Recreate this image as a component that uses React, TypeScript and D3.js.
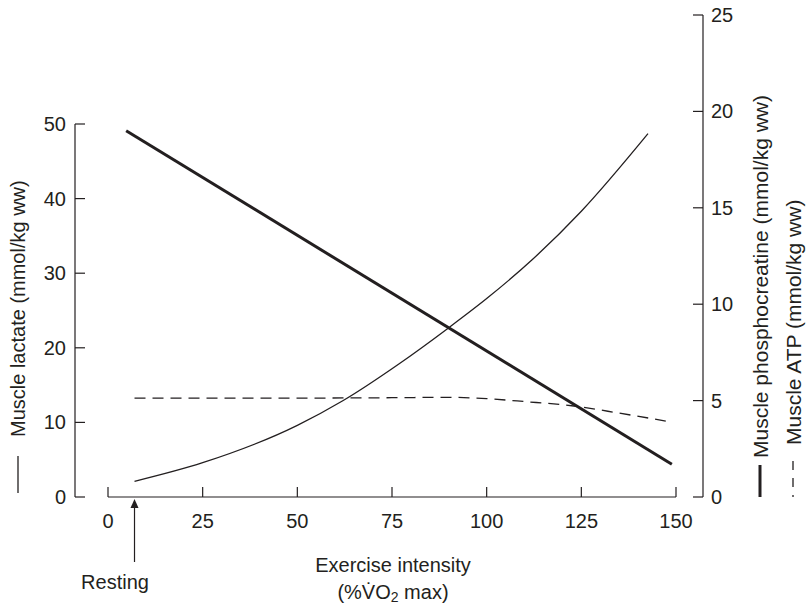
import React from 'react';
import * as d3 from 'd3';

// exercise intensity (%VO2 max) vs muscle metabolites
const xTicks = [0, 25, 50, 75, 100, 125, 150];
const lactateTicks = [0, 10, 20, 30, 40, 50];
const rightTicks = [0, 5, 10, 15, 20, 25];

// muscle lactate (left axis)
const lactateX = [7, 25, 50, 62, 77, 90, 100, 112, 125, 142.6];
const lactateY = [2.1, 4.6, 9.6, 12.9, 17.9, 22.7, 26.6, 31.8, 38.3, 48.7];

// muscle phosphocreatine (right axis)
const pcrX = [4.8, 148.9];
const pcrY = [19.0, 1.7];

// muscle ATP (right axis)
const atpX = [7, 50, 75, 90, 100, 110, 123, 135, 147.3];
const atpY = [5.13, 5.13, 5.15, 5.17, 5.1, 4.95, 4.72, 4.35, 3.94];

const ink = '#231f20';
const font = '"Liberation Sans", Arial, sans-serif';

export default function App() {
    const x = d3.scaleLinear().domain([0, 150]).range([108, 676]);
    const yL = d3.scaleLinear().domain([0, 50]).range([497, 124]);
    const yR = d3.scaleLinear().domain([0, 25]).range([497, 15]);

    const zip = (xs: number[], ys: number[]) => xs.map((v, i) => [v, ys[i]] as [number, number]);

    const lactLine = d3.line<[number, number]>()
        .x(d => x(d[0]))
        .y(d => yL(d[1]))
        .curve(d3.curveMonotoneX);
    const rightLine = d3.line<[number, number]>()
        .x(d => x(d[0]))
        .y(d => yR(d[1]))
        .curve(d3.curveMonotoneX);

    const axisY = yL(0);
    const leftX = 75;
    const rightX = 703;

    return (
        <svg width={806} height={610} style={{ position: 'absolute', left: 0, top: 0 }}
             fontFamily={font} fill={ink}>
            {/* left axis */}
            <g stroke={ink} strokeWidth={1.2}>
                <line x1={leftX} x2={leftX} y1={yL(50)} y2={yL(0)} />
                {lactateTicks.map(t => (
                    <line key={t} x1={leftX} x2={leftX + 10} y1={yL(t)} y2={yL(t)} />
                ))}
            </g>
            {lactateTicks.map(t => (
                <text key={t} x={leftX - 9} y={yL(t)} textAnchor="end" dominantBaseline="central" fontSize={20}>{t}</text>
            ))}

            {/* right axis */}
            <g stroke={ink} strokeWidth={1.2}>
                <line x1={rightX} x2={rightX} y1={yR(25)} y2={yR(0)} />
                {rightTicks.map(t => (
                    <line key={t} x1={rightX - 10} x2={rightX} y1={yR(t)} y2={yR(t)} />
                ))}
            </g>
            {rightTicks.map(t => (
                <text key={t} x={rightX + 8} y={yR(t)} dominantBaseline="central" fontSize={20}>{t}</text>
            ))}

            {/* x axis */}
            <g stroke={ink} strokeWidth={1.2}>
                <line x1={x(0)} x2={x(150)} y1={axisY} y2={axisY} />
                {xTicks.map(t => (
                    <line key={t} x1={x(t)} x2={x(t)} y1={axisY} y2={axisY - 10} />
                ))}
            </g>
            {xTicks.map(t => (
                <text key={t} x={x(t)} y={521} textAnchor="middle" dominantBaseline="central" fontSize={20}>{t}</text>
            ))}

            {/* series */}
            <path d={lactLine(zip(lactateX, lactateY)) || ''} fill="none" stroke={ink} strokeWidth={1.3} />
            <path d={rightLine(zip(pcrX, pcrY)) || ''} fill="none" stroke={ink} strokeWidth={3} />
            <path d={rightLine(zip(atpX, atpY)) || ''} fill="none" stroke={ink} strokeWidth={1.3} strokeDasharray="11,7" />

            {/* resting arrow */}
            <line x1={x(7)} x2={x(7)} y1={562} y2={506} stroke={ink} strokeWidth={1.2} />
            <path d={`M${x(7)},499 L${x(7) - 4},508 L${x(7) + 4},508 Z`} fill={ink} />
            <text x={115} y={582} textAnchor="middle" dominantBaseline="central" fontSize={20}>Resting</text>

            {/* x title */}
            <text x={393} y={565} textAnchor="middle" dominantBaseline="central" fontSize={20}>Exercise intensity</text>
            <text x={393} y={592} textAnchor="middle" dominantBaseline="central" fontSize={20}>
                (%V̇O<tspan fontSize={14} dy={5}>2</tspan><tspan dy={-5}> max)</tspan>
            </text>

            {/* y titles with legend marks */}
            <line x1={18} x2={18} y1={456} y2={493} stroke={ink} strokeWidth={1.3} />
            <text transform="translate(18,437) rotate(-90)" dominantBaseline="central" fontSize={20}>Muscle lactate (mmol/kg ww)</text>

            <line x1={760} x2={760} y1={465} y2={497} stroke={ink} strokeWidth={3} />
            <text transform="translate(760,458) rotate(-90)" dominantBaseline="central" fontSize={21}>Muscle phosphocreatine (mmol/kg ww)</text>

            <line x1={793} x2={793} y1={461} y2={497} stroke={ink} strokeWidth={1.3} strokeDasharray="9,8" />
            <text transform="translate(793,445) rotate(-90)" dominantBaseline="central" fontSize={21}>Muscle ATP (mmol/kg ww)</text>
        </svg>
    );
}
